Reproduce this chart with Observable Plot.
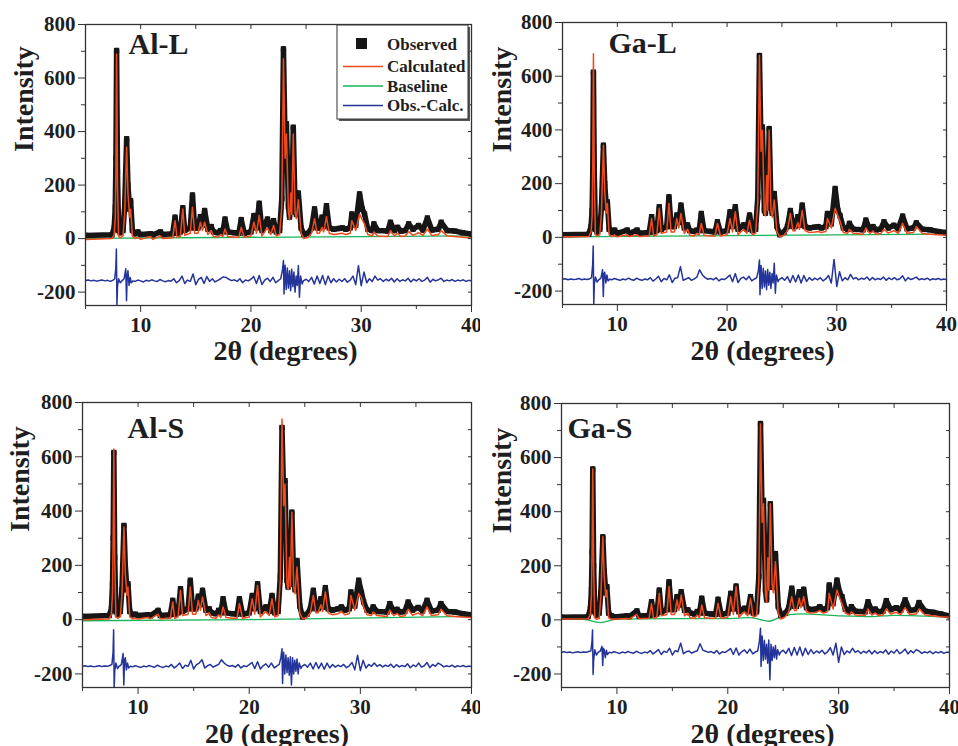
<!DOCTYPE html>
<html><head><meta charset="utf-8">
<script src="https://cdn.jsdelivr.net/npm/d3@7"></script>
<script src="https://cdn.jsdelivr.net/npm/@observablehq/plot@0.6"></script>
<style>
html,body{margin:0;padding:0;background:#fff;}
#wrap{position:relative;width:958px;height:746px;overflow:hidden;background:#fff;}
.panel{position:absolute;}
#legend{position:absolute;left:0;top:0;}
#wrap svg text{font-family:'Liberation Serif','Times New Roman',serif !important;font-weight:bold !important;}
</style></head><body><div id="wrap"></div>
<script>
// ---------- data ----------
const xMajorTicks = [10, 20, 30, 40];
const xMinorTicks = [5, 15, 25, 35];
const yMajorTicks = [-200, 0, 200, 400, 600, 800];
const yMinorTicks = [-100, 100, 300, 500, 700];
const legendLabels = ["Observed", "Calculated", "Baseline", "Obs.-Calc."];
const panelNames = ["Al-L", "Ga-L", "Al-S", "Ga-S"];

// 2θ sample positions of the profile vertices (shared by all four samples)
const twoTheta = [
 5,7.4,7.6,7.7,7.76,7.82,7.9,8.0,8.15,8.4,
 8.55,8.73,8.85,9.0,9.09,9.25,9.5,9.75,10.0,10.9,
 11.1,11.8,12.0,12.9,13.12,13.3,13.6,13.82,14.0,14.5,
 14.7,14.9,15.2,15.42,15.6,15.8,16.1,16.4,16.6,17.0,
 17.25,17.45,17.65,17.9,18.5,18.9,19.12,19.4,20.0,20.27,
 20.5,20.75,21.0,21.5,21.8,22.05,22.3,22.6,22.8,22.95,
 23.1,23.22,23.4,23.5,23.62,23.7,23.84,24.0,24.12,24.3,
 24.55,24.8,25.2,25.5,25.77,26.0,26.2,26.45,26.6,26.85,
 27.1,27.5,28.0,28.3,28.6,29.0,29.15,29.5,29.85,30.1,
 30.3,30.6,31.0,31.15,31.5,32.4,32.65,33.0,33.3,33.6,
 34.0,34.3,34.7,35.2,35.6,36.0,36.4,37.0,37.25,37.8,
 38.5,39.2,40];

const alL_obs = [
 12,14,40,117,300,703,250,30,22,30,
 120,373,200,110,142,30,18,25,15,18,
 14,25,15,18,80,20,25,115,30,40,
 163,40,40,82,50,105,35,45,25,22,
 30,25,73,25,22,20,71,20,25,86,
 40,132,30,73,30,67,25,30,150,709,
 350,429,120,80,192,100,416,120,90,170,
 40,15,20,40,111,40,40,80,45,123,
 40,35,38,40,35,40,92,50,167,110,
 92,35,30,55,30,28,61,30,42,28,
 30,55,35,49,32,77,32,35,61,30,
 28,22,17];
const alL_calc = [
 -3,0,15,80,250,690,200,10,3,10,
 90,341,170,80,110,10,0,5,-3,8,
 -3,10,0,3,67,5,8,111,12,20,
 117,20,20,61,30,61,15,30,8,5,
 15,8,36,8,5,5,42,5,10,61,
 20,86,10,40,15,49,10,15,120,672,
 300,391,100,70,170,90,391,100,75,145,
 20,0,5,20,74,20,20,42,25,82,
 20,15,18,20,15,20,67,30,92,70,
 55,15,10,25,10,8,30,10,20,8,
 10,26,12,22,12,36,12,15,30,10,
 8,5,2];
const gaL_obs = [
 10,12,40,100,250,615,230,30,20,30,
 110,343,200,110,132,30,18,27,15,27,
 14,27,15,18,77,20,25,114,30,40,
 151,40,40,83,55,120,35,46,25,22,
 27,25,89,25,22,20,58,20,25,95,
 40,114,30,46,30,83,25,30,150,677,
 330,411,100,90,262,110,405,120,90,163,
 40,10,20,40,100,40,40,77,45,120,
 40,35,38,40,35,40,89,50,182,100,
 80,35,30,52,30,28,64,30,40,28,
 30,58,35,45,32,79,32,35,54,30,
 28,22,18];
const gaL_calc = [
 2,3,20,80,280,684,220,10,5,10,
 90,343,170,90,126,10,3,8,2,10,
 3,10,3,5,70,5,10,108,15,20,
 126,20,20,70,35,89,15,30,8,5,
 15,8,52,8,5,5,52,5,10,70,
 20,95,10,30,15,64,10,15,130,677,
 320,399,90,80,230,100,399,100,75,139,
 20,3,8,25,89,25,25,55,30,100,
 25,18,20,22,18,22,70,35,108,80,
 60,18,15,30,15,12,35,15,22,12,
 14,30,16,25,15,52,15,18,40,14,
 12,10,8];
const alS_obs = [
 12,15,40,130,300,616,230,30,20,30,
 110,347,200,110,132,30,18,20,15,18,
 14,34,15,18,71,20,25,114,30,40,
 145,40,40,86,55,108,35,40,25,22,
 34,25,77,25,22,20,77,20,25,89,
 40,132,30,47,30,89,25,30,160,708,
 450,512,145,120,255,130,396,140,110,218,
 50,10,20,40,108,40,40,77,45,118,
 40,35,40,47,35,40,102,50,145,100,
 65,35,30,47,30,28,59,30,38,28,
 30,65,35,45,32,71,32,35,59,30,
 28,22,18];
const alS_calc = [
 0,2,20,100,300,629,220,10,5,10,
 90,341,170,90,120,10,3,5,2,8,
 3,20,3,5,65,5,10,108,15,20,
 120,20,20,71,35,83,15,25,8,5,
 18,8,47,8,5,5,59,5,10,77,
 20,126,10,30,15,77,10,15,150,739,
 420,500,130,110,230,120,396,120,95,194,
 25,3,8,25,89,25,25,55,30,102,
 25,18,22,30,18,22,89,35,96,80,
 45,18,15,28,15,12,35,15,22,12,
 14,38,16,25,15,47,15,18,38,14,
 12,10,8];
const gaS_obs = [
 10,12,40,110,250,558,200,30,18,25,
 100,307,180,100,123,25,15,12,12,15,
 12,33,14,16,67,18,22,110,28,38,
 141,38,38,86,55,104,35,37,25,22,
 31,25,80,25,22,20,76,20,25,98,
 40,125,30,43,30,86,25,30,160,726,
 380,442,110,74,258,120,429,150,120,245,
 50,15,25,45,117,50,50,104,60,113,
 45,38,40,49,38,45,129,60,147,100,
 86,40,32,49,32,30,67,32,40,30,
 32,71,38,45,35,74,35,38,64,32,
 28,22,15];
const gaS_calc = [
 3,4,20,90,260,558,190,8,2,5,
 85,307,160,85,110,8,2,3,3,5,
 3,20,4,6,60,6,10,98,15,20,
 123,20,20,74,35,92,15,25,8,6,
 18,8,55,8,6,6,61,6,10,86,
 20,123,10,30,15,80,10,15,140,724,
 360,429,95,65,230,110,429,130,100,215,
 25,3,12,30,86,35,35,80,45,86,
 30,25,28,35,25,30,98,40,110,80,
 60,25,18,30,18,16,40,18,25,16,
 18,40,22,28,20,45,20,22,40,18,
 15,12,10];

// baselines
const alL_baseX = [5, 40];              const alL_baseY = [1, 10];
const gaL_baseX = [5, 40];              const gaL_baseY = [2, 12];
const alS_baseX = [5, 20, 40];          const alS_baseY = [-4, 0, 12];
const gaS_baseX = [5,7,8.5,10,15,20,22,23.7,25,26.5,30,33,35,40];
const gaS_baseY = [5,2,-10,3,5,5,8,-5,15,22,15,12,17,10];

// Obs.-Calc. difference curve sample positions
const diffTheta = [
 5,5.25,5.5,5.75,6,6.25,6.5,6.75,7,7.25,7.5,
 7.65,7.75,7.8,7.85,7.9,8.0,8.15,8.3,8.5,8.65,8.72,8.78,8.85,8.95,9.05,9.15,9.3,
 9.5,9.75,10,10.25,10.5,10.75,11,11.25,11.5,11.75,12,12.25,12.5,12.75,13,13.25,13.5,13.75,
 14,14.25,14.5,14.75,15,15.25,15.5,15.75,16,16.25,16.5,16.75,17,17.25,17.5,17.75,18,18.25,
 18.5,18.75,19,19.25,19.5,19.75,20,20.25,20.5,20.75,21,21.25,21.5,21.75,22,22.25,22.5,
 22.7,22.85,22.95,23.0,23.1,23.2,23.3,23.4,23.5,23.6,23.7,23.8,23.9,24.0,24.1,24.2,24.3,24.4,24.5,24.65,
 24.75,25,25.25,25.5,25.75,26,26.25,26.5,26.75,27,27.25,27.5,27.75,28,28.25,28.5,28.75,29,29.25,29.5,
 29.75,30,30.25,30.5,30.75,31,31.25,31.5,31.75,32,32.25,32.5,32.75,33,33.25,33.5,33.75,34,34.25,34.5,
 34.75,35,35.25,35.5,35.75,36,36.25,36.5,36.75,37,37.25,37.5,37.75,38,38.25,38.5,38.75,39,39.25,39.5,
 39.75,40];

const alL_diff = [
 -157,-155,-158,-156,-159,-157,-155,-158,-156,-160,-155,
 -150,-110,-39,-250,-180,-150,-165,-158,-150,-113,-232,-140,-120,-175,-145,-165,-158,
 -160,-155,-158,-162,-156,-159,-154,-158,-160,-153,-158,-161,-157,-159,-150,-165,-157,-140,-168,-155,
 -160,-132,-172,-152,-145,-168,-142,-160,-150,-162,-156,-150,-143,-145,-152,-157,-154,-160,-150,-165,
 -155,-158,-152,-142,-168,-138,-172,-155,-148,-160,-145,-165,-156,
 -150,-120,-82,-207,-100,-190,-110,-185,-120,-195,-115,-180,-125,-200,-140,-175,-101,-219,-140,-170,
 -158,-152,-160,-145,-170,-140,-168,-138,-172,-140,-165,-150,-162,-152,-160,-150,-163,-155,-140,-172,
 -101,-176,-125,-165,-150,-160,-140,-155,-150,-160,-152,-158,-148,-162,-150,-160,-154,-158,-148,-162,
 -152,-158,-150,-160,-155,-145,-163,-152,-158,-154,-148,-160,-155,-158,-153,-160,-155,-158,-154,-160,
 -156,-158];
const gaL_diff = [
 -156,-154,-158,-155,-157,-156,-153,-158,-155,-157,-154,
 -150,-100,-32,-251,-175,-148,-166,-158,-152,-121,-220,-135,-130,-170,-140,-162,-156,
 -158,-153,-157,-160,-155,-158,-152,-157,-160,-152,-157,-160,-155,-158,-150,-163,-155,-145,-165,-153,
 -158,-140,-168,-152,-150,-109,-160,-155,-150,-160,-155,-148,-121,-140,-150,-156,-153,-158,-150,-162,
 -155,-157,-150,-140,-165,-135,-168,-153,-148,-158,-145,-162,-155,
 -150,-125,-84,-214,-105,-190,-115,-185,-125,-195,-120,-178,-130,-190,-135,-170,-96,-208,-140,-165,
 -157,-150,-160,-146,-168,-142,-166,-140,-170,-142,-164,-150,-160,-152,-158,-150,-162,-155,-142,-170,
 -82,-183,-128,-162,-150,-158,-138,-155,-150,-158,-152,-156,-148,-160,-150,-158,-153,-157,-148,-160,
 -151,-157,-150,-158,-154,-143,-162,-150,-157,-153,-148,-158,-154,-157,-152,-159,-154,-157,-153,-158,
 -155,-157];
const alS_diff = [
 -172,-170,-173,-171,-174,-172,-170,-173,-171,-172,-168,
 -165,-120,-37,-250,-190,-160,-180,-172,-165,-125,-241,-150,-140,-185,-160,-178,-172,
 -174,-170,-173,-176,-171,-174,-169,-173,-175,-168,-173,-176,-171,-174,-165,-178,-170,-160,-180,-168,
 -172,-150,-182,-166,-160,-148,-178,-170,-165,-175,-170,-165,-148,-160,-168,-172,-169,-175,-165,-178,
 -170,-173,-166,-158,-180,-155,-182,-170,-163,-175,-160,-178,-170,
 -165,-140,-107,-235,-120,-200,-130,-195,-140,-205,-137,-241,-140,-200,-150,-190,-145,-200,-160,-180,
 -172,-165,-175,-160,-182,-158,-180,-160,-183,-160,-178,-165,-175,-168,-173,-165,-177,-170,-158,-185,
 -131,-188,-150,-178,-165,-172,-160,-172,-166,-174,-168,-172,-164,-176,-166,-174,-169,-173,-163,-177,
 -167,-173,-160,-175,-170,-158,-177,-165,-172,-160,-166,-174,-170,-173,-168,-175,-170,-173,-169,-174,
 -171,-173];
const gaS_diff = [
 -120,-118,-121,-119,-122,-120,-118,-121,-119,-120,-116,
 -115,-80,-37,-202,-150,-110,-130,-120,-115,-98,-169,-105,-110,-140,-112,-128,-120,
 -122,-118,-121,-124,-119,-122,-117,-121,-123,-116,-121,-124,-119,-122,-113,-126,-118,-110,-128,-116,
 -120,-105,-130,-114,-118,-86,-125,-118,-115,-123,-118,-114,-88,-112,-116,-120,-117,-123,-113,-126,
 -118,-121,-114,-106,-128,-104,-130,-118,-111,-123,-108,-126,-118,
 -115,-80,-31,-172,-60,-150,-75,-145,-90,-160,-74,-221,-90,-150,-100,-140,-95,-145,-110,-130,
 -120,-112,-124,-105,-132,-102,-130,-100,-133,-105,-128,-110,-125,-115,-122,-112,-126,-118,-103,-130,
 -86,-157,-100,-128,-115,-122,-105,-120,-114,-124,-116,-122,-112,-126,-114,-124,-117,-122,-111,-127,
 -115,-123,-110,-125,-118,-108,-126,-114,-122,-110,-115,-124,-118,-122,-116,-125,-118,-122,-117,-124,
 -119,-121];

// ---------- layout / style ----------
const C = {obs: "#161616", calc: "#f04a1c", base: "#19b45a", diff: "#24349a", frame: "#333", text: "#1e1e1e"};
const FONT = "'Liberation Serif', 'Times New Roman', serif";

const panels = [
 {obs: alL_obs, calc: alL_calc, bx: alL_baseX, by: alL_baseY, diff: alL_diff,
  left: 0, top: 0, w: 480, h: 375, ml: 85, mt: 24, mr: 9, mb: 70,
  name: {dx: 43, dy: 8}, ylab: {dx: -61, dy: -13}, xlab: {dx: 7, dy: 46}},
 {obs: gaL_obs, calc: gaL_calc, bx: gaL_baseX, by: gaL_baseY, diff: gaL_diff,
  left: 480, top: 0, w: 478, h: 375, ml: 82, mt: 22, mr: 12, mb: 71,
  name: {dx: 46, dy: 9}, ylab: {dx: -60, dy: -11}, xlab: {dx: 8, dy: 47}},
 {obs: alS_obs, calc: alS_calc, bx: alS_baseX, by: alS_baseY, diff: alS_diff,
  left: 0, top: 380, w: 480, h: 366, ml: 82, mt: 22, mr: 9, mb: 59,
  name: {dx: 45, dy: 14}, ylab: {dx: -62, dy: -13}, xlab: {dx: 0, dy: 47}},
 {obs: gaS_obs, calc: gaS_calc, bx: gaS_baseX, by: gaS_baseY, diff: gaS_diff,
  left: 480, top: 380, w: 478, h: 366, ml: 81, mt: 23, mr: 9, mb: 59,
  name: {dx: 6, dy: 13}, ylab: {dx: -59, dy: -12}, xlab: {dx: 7, dy: 47}}
];

const wrap = document.getElementById("wrap");
const zip = (xs, ys) => xs.slice(0, Math.min(xs.length, ys.length)).map((x, i) => ({x, y: ys[i]}));

panels.forEach((p, k) => {
  const obs = zip(twoTheta, p.obs);
  const calc = zip(twoTheta, p.calc);
  const base = zip(p.bx, p.by);
  const diff = zip(diffTheta, p.diff);
  const axText = {fontSize: 21, fontWeight: "bold", fontFamily: FONT, fill: C.text};
  const chart = Plot.plot({
    width: p.w, height: p.h,
    marginLeft: p.ml, marginTop: p.mt, marginRight: p.mr, marginBottom: p.mb,
    x: {domain: [5, 40], axis: null, label: null},
    y: {domain: [-250, 800], axis: null, label: null},
    style: {fontFamily: FONT, fontWeight: "bold", color: C.text, background: "white", overflow: "visible"},
    marks: [
      Plot.line(base, {x: "x", y: "y", stroke: C.base, strokeWidth: 1.3, curve: "monotone-x", clip: true}),
      Plot.line(obs, {x: "x", y: "y", stroke: C.obs, strokeWidth: 5.5, clip: true}),
      Plot.dot(obs, {x: "x", y: "y", symbol: "square", r: 3, fill: C.obs, clip: true}),
      Plot.line(calc, {x: "x", y: "y", stroke: C.calc, strokeWidth: 1.5, clip: true}),
      Plot.line(diff, {x: "x", y: "y", stroke: C.diff, strokeWidth: 1.5, clip: true}),
      Plot.frame({stroke: C.frame, strokeWidth: 1.3}),
      Plot.axisY({ticks: yMajorTicks, tickSize: 7, tickPadding: 3, tickFormat: d => `${d}`, label: null, stroke: C.frame, ...axText}),
      Plot.axisY({ticks: yMinorTicks, tickSize: 4, tickFormat: () => "", label: null, stroke: C.frame}),
      Plot.axisY({anchor: "right", ticks: yMajorTicks.concat(yMinorTicks), tickSize: -4, tickFormat: () => "", label: null, stroke: C.frame}),
      Plot.axisX({ticks: xMajorTicks, tickSize: 7, tickPadding: 5, tickFormat: d => `${d}`, label: null, stroke: C.frame, ...axText}),
      Plot.axisX({ticks: xMinorTicks, tickSize: 4, tickFormat: () => "", label: null, stroke: C.frame}),
      Plot.axisX({anchor: "top", ticks: xMajorTicks.concat(xMinorTicks), tickSize: -4, tickFormat: () => "", label: null, stroke: C.frame}),
      Plot.text([panelNames[k]], {frameAnchor: "top-left", dx: p.name.dx, dy: p.name.dy, textAnchor: "start", lineAnchor: "top",
        fontSize: 30, fontWeight: "bold", fontFamily: FONT, fill: C.text}),
      Plot.text(["Intensity"], {frameAnchor: "left", dx: p.ylab.dx, dy: p.ylab.dy, rotate: -90,
        fontSize: 28, fontWeight: "bold", fontFamily: FONT, fill: C.text}),
      Plot.text(["2θ (degrees)"], {frameAnchor: "bottom", dx: p.xlab.dx, dy: p.xlab.dy, lineAnchor: "middle",
        fontSize: 28, fontWeight: "bold", fontFamily: FONT, fill: C.text})
    ]
  });
  chart.classList.add("panel");
  chart.style.left = p.left + "px";
  chart.style.top = p.top + "px";
  wrap.appendChild(chart);
});

// legend (top-left panel)
const ns = "http://www.w3.org/2000/svg";
const lg = document.createElementNS(ns, "svg");
lg.setAttribute("id", "legend");
lg.setAttribute("width", 958); lg.setAttribute("height", 746);
const add = (tag, attrs, text) => {
  const el = document.createElementNS(ns, tag);
  for (const a in attrs) el.setAttribute(a, attrs[a]);
  if (text != null) el.textContent = text;
  lg.appendChild(el); return el;
};
add("rect", {x: 339, y: 27, width: 131, height: 94, fill: "#555"});
add("rect", {x: 337, y: 25, width: 131, height: 94, fill: "#fff", stroke: "#333", "stroke-width": 1});
add("rect", {x: 356, y: 38, width: 11, height: 11, fill: C.obs});
const lineYs = [66.5, 86, 105.5];
const lineCols = [C.calc, C.base, C.diff];
lineYs.forEach((y, i) => add("line", {x1: 343, x2: 383, y1: y, y2: y, stroke: lineCols[i], "stroke-width": 1.4}));
const textYs = [50, 72, 92, 111];
legendLabels.forEach((t, i) => add("text", {x: 387, y: textYs[i], "font-size": 17, fill: C.text}, t));
wrap.appendChild(lg);
</script>
</body></html>
